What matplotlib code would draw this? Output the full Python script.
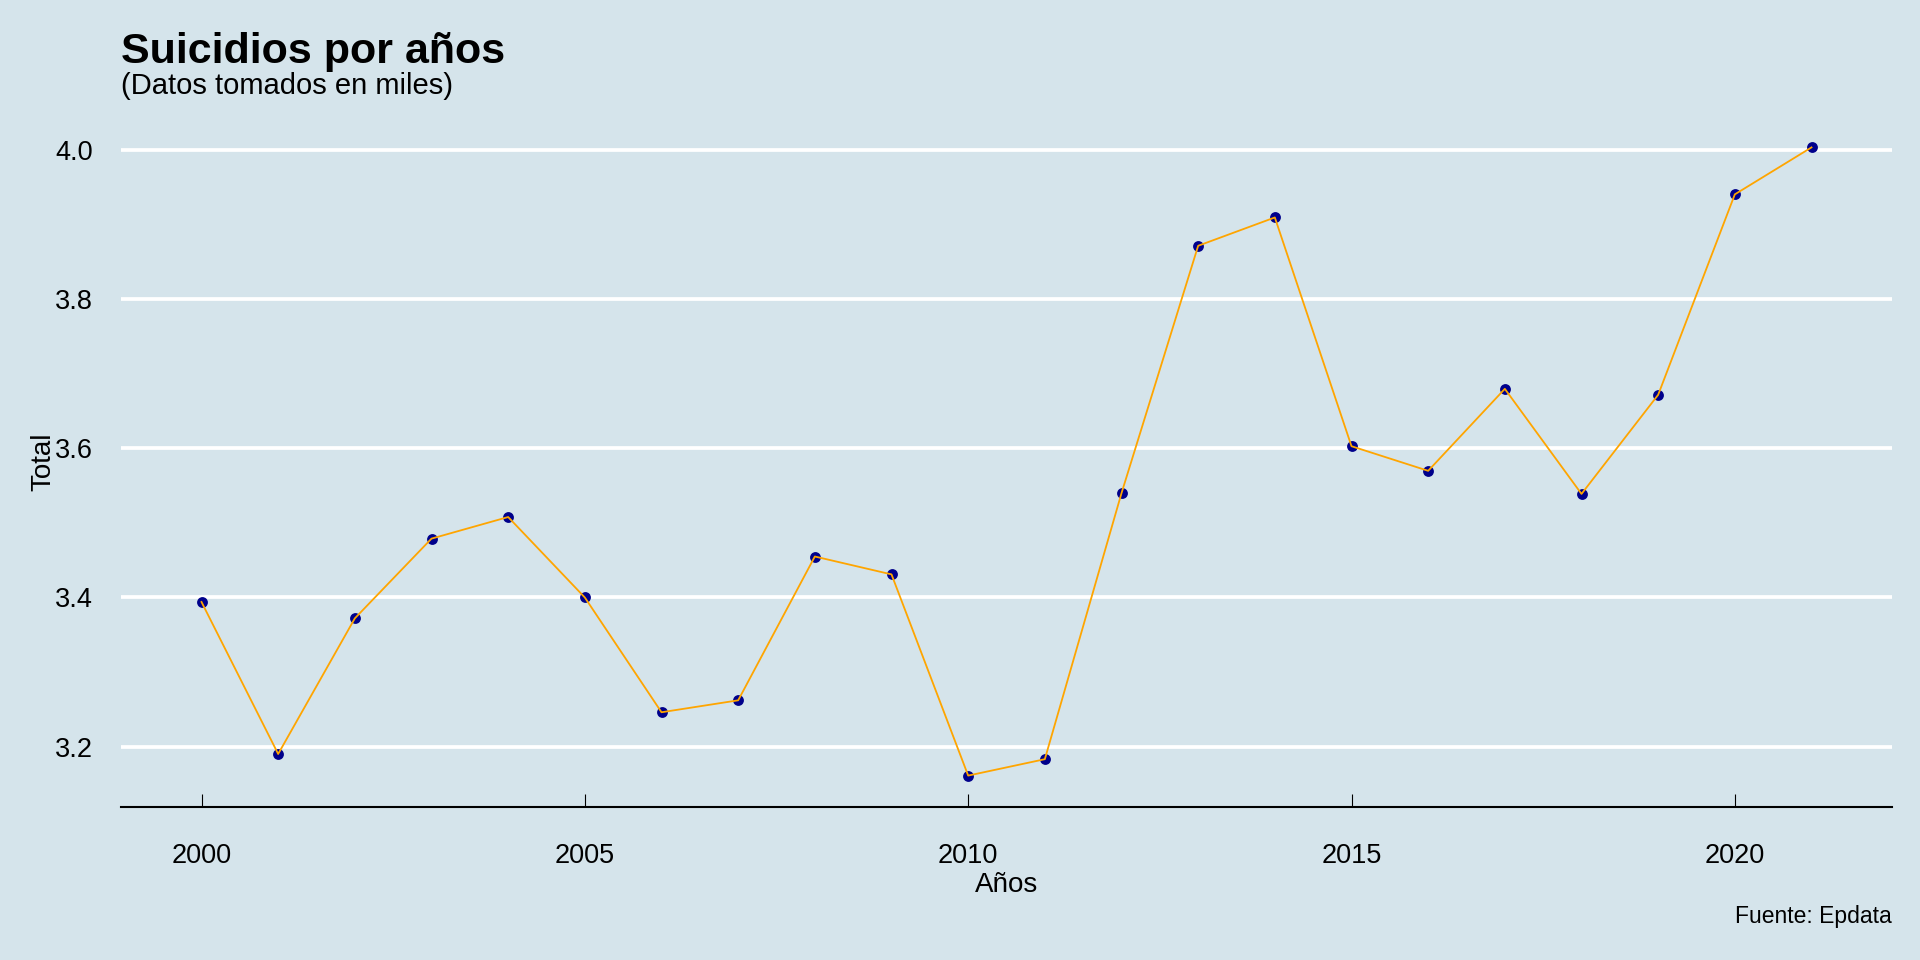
import matplotlib
matplotlib.use("Agg")
import matplotlib.pyplot as plt
from matplotlib.ticker import FormatStrFormatter

years = list(range(2000, 2022))
totals = [3.394, 3.190, 3.372, 3.479, 3.508, 3.400, 3.246, 3.262, 3.455, 3.431,
          3.161, 3.183, 3.540, 3.872, 3.910, 3.603, 3.570, 3.680, 3.539, 3.672,
          3.941, 4.004]
y_ticks = [3.2, 3.4, 3.6, 3.8, 4.0]
x_ticks = [2000, 2005, 2010, 2015, 2020]

title = "Suicidios por años"
subtitle = "(Datos tomados en miles)"
xlabel = "Años"
ylabel = "Total"
caption = "Fuente: Epdata"

BG = "#d5e4eb"
plt.rcParams['font.family'] = ['Liberation Sans', 'DejaVu Sans']

W, H = 1920, 960
fig = plt.figure(figsize=(W / 100, H / 100), dpi=100, facecolor=BG)
left, right, bottom, top = 121, 1892, 807, 116
ax = fig.add_axes([left / W, 1 - bottom / H, (right - left) / W, (bottom - top) / H])
ax.set_facecolor(BG)

ax.scatter(years, totals, s=(7.8) ** 2, color="#00008b", zorder=3, linewidths=0)
ax.plot(years, totals, color="#ffa500", linewidth=1.3, zorder=4)
ax.margins(x=0.05, y=0.05)

ax.set_yticks(y_ticks)
ax.yaxis.set_major_formatter(FormatStrFormatter("%.1f"))
ax.set_xticks(x_ticks)
ax.grid(axis="y", color="white", linewidth=2.7, zorder=1)
ax.grid(axis="x", visible=False)
ax.set_axisbelow(True)

for s in ["top", "right", "left"]:
    ax.spines[s].set_visible(False)
ax.spines["bottom"].set_color("black")
ax.spines["bottom"].set_linewidth(1.5)

ax.tick_params(axis="x", direction="in", length=9.1, width=0.8, color="black",
               labelsize=19.5, pad=26)
ax.tick_params(axis="y", length=0, labelsize=19.5, pad=20)

ax.set_xlabel(xlabel, fontsize=20, labelpad=2)
ax.set_ylabel(ylabel, fontsize=20, labelpad=-1)

fig.text(left / W, 1 - 62.5 / H, title, fontsize=31, fontweight="bold",
         ha="left", va="baseline")
fig.text(left / W, 1 - 94 / H, subtitle, fontsize=21, ha="left", va="baseline")
fig.text(right / W, 1 - 917 / H, caption, fontsize=16.5, ha="right", va="center")

fig.savefig("out.png", dpi=100, facecolor=BG)
